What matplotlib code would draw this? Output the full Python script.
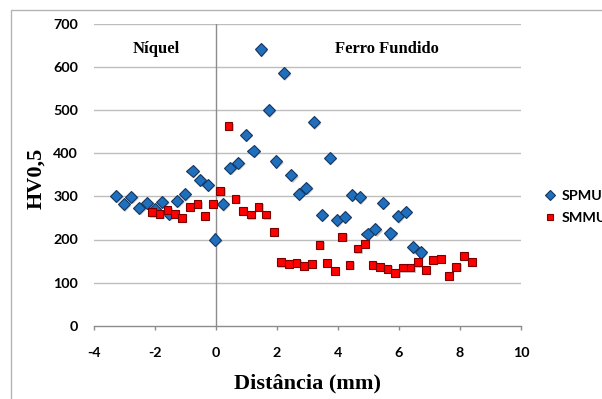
import matplotlib
matplotlib.use("Agg")
import matplotlib.pyplot as plt
import matplotlib.patheffects as pe
from matplotlib.patches import Rectangle

# ---- data ----
spmu_x = [-3.27, -3.02, -2.78, -2.52, -2.26, -2.00, -1.76, -1.53, -1.27, -1.02,
          -0.77, -0.52, -0.27, -0.03, 0.23, 0.47, 0.73, 0.98, 1.23, 1.47,
          1.73, 1.97, 2.22, 2.47, 2.71, 2.96, 3.21, 3.47, 3.73, 3.97,
          4.22, 4.46, 4.72, 4.97, 5.22, 5.47, 5.72, 5.96, 6.22, 6.47, 6.72]
spmu_y = [301, 282, 299, 274, 285, 271, 287, 260, 290, 305,
          359, 338, 327, 200, 282, 366, 378, 443, 406, 641,
          500, 381, 586, 349, 306, 320, 472, 257, 390, 245,
          253, 304, 298, 213, 224, 285, 214, 254, 264, 182, 170]

smmu_x = [-2.09, -1.85, -1.59, -1.35, -1.11, -0.85, -0.61, -0.36, -0.10, 0.14,
          0.41, 0.64, 0.88, 1.14, 1.39, 1.64, 1.90, 2.13, 2.39, 2.64,
          2.89, 3.14, 3.39, 3.63, 3.90, 4.14, 4.38, 4.64, 4.89, 5.13,
          5.38, 5.62, 5.88, 6.13, 6.38, 6.63, 6.88, 7.12, 7.37, 7.64,
          7.88, 8.13, 8.39]
smmu_y = [263, 259, 268, 260, 250, 275, 282, 255, 282, 313,
          463, 294, 266, 258, 276, 258, 217, 147, 143, 146,
          138, 143, 188, 146, 127, 206, 141, 179, 190, 141,
          137, 132, 123, 135, 135, 147, 130, 152, 155, 116,
          137, 162, 148]

x_ticks = [-4, -2, 0, 2, 4, 6, 8, 10]
y_ticks = [0, 100, 200, 300, 400, 500, 600, 700]
series_names = ["SPMU", "SMMU"]
region_labels = ["Níquel", "Ferro Fundido"]

W, H = 602, 399
fig = plt.figure(figsize=(W / 100, H / 100), dpi=100)
L, R, T, B = 94, 521, 24, 325.7
ax = fig.add_axes([L / W, 1 - B / H, (R - L) / W, (B - T) / H])

# outer chart border
fig.add_artist(Rectangle((11 / W, -0.1), 1.2, 1 - 10 / H + 0.1, transform=fig.transFigure,
                         fill=False, edgecolor="#b4b4b4", lw=1.0))

ax.set_xlim(x_ticks[0], x_ticks[-1])
ax.set_ylim(y_ticks[0], y_ticks[-1])
ax.set_xticks(x_ticks)
ax.set_yticks(y_ticks)

for y in y_ticks[1:]:
    ax.axhline(y, color="#bdbdbd", lw=1.0, zorder=0)
ax.axvline(0, color="#8c8c8c", lw=1.0, zorder=1)

for s in ["top", "right", "left"]:
    ax.spines[s].set_visible(False)
ax.spines["bottom"].set_color("#8c8c8c")
ax.spines["bottom"].set_linewidth(1.0)

tickfont = dict(family="Lato", weight="bold", size=10.3)
ax.tick_params(axis="x", direction="out", length=3, width=1, color="#8c8c8c", pad=12)
ax.tick_params(axis="y", length=0, pad=11.5)
ax.set_xticklabels([str(v) for v in x_ticks], **tickfont)
ax.set_yticklabels([str(v) for v in y_ticks], **tickfont)

shadow = [pe.SimplePatchShadow(offset=(1, -1), shadow_rgbFace="#888888", alpha=0.45), pe.Normal()]
ax.plot(spmu_x, spmu_y, ls="none", marker="D", ms=6.2, mfc="#1f6fbf", mec="#17365d",
        mew=0.8, label=series_names[0], zorder=3, path_effects=shadow)
ax.plot(smmu_x, smmu_y, ls="none", marker="s", ms=5.6, mfc="#ff0000", mec="#7a0000",
        mew=0.8, label=series_names[1], zorder=3, path_effects=shadow)

serif = dict(family="Liberation Serif", weight="bold")
ax.text(-1.95, 641, region_labels[0], ha="center", va="center", size=12, **serif)
ax.text(5.6, 641, region_labels[1], ha="center", va="center", size=12, **serif)

ax.set_xlabel("Distância (mm)", size=16, **serif)
ax.xaxis.set_label_coords(0.5, (B - 383) / (B - T))
ax.xaxis.label.set_va("center")
ax.set_ylabel("HV0,5", size=16, **serif)
ax.yaxis.set_label_coords((36 - L) / (R - L), (B - 178) / (B - T))
ax.yaxis.label.set_va("center")

leg = fig.legend(loc="center left", bbox_to_anchor=(545 / W, 1 - 207 / H), frameon=False,
                 handlelength=0.7, handletextpad=0.45, borderaxespad=0, borderpad=0,
                 labelspacing=0.75, prop=dict(family="Lato", weight="bold", size=10.3))
for h, ms in zip(leg.legend_handles, [5.2, 4.4]):
    h.set_path_effects([])
    h.set_markersize(ms)

fig.savefig("out.png", dpi=100)
